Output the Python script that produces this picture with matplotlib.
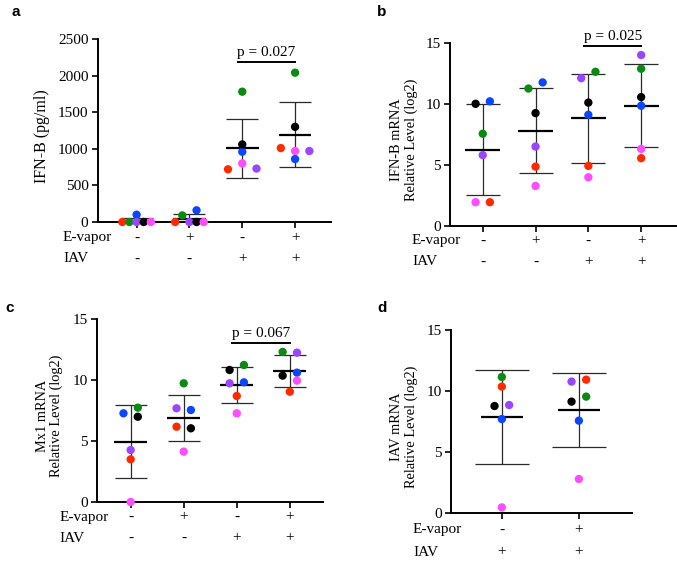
import numpy as np
import matplotlib.pyplot as plt
from matplotlib.transforms import blended_transform_factory

plt.rcParams['font.family'] = ['Liberation Serif', 'DejaVu Serif']

# dot colours, same order in every group: red, green, blue, purple, black, pink
colors = ['#ff2a00', '#0a8a12', '#0a46ff', '#9b45ff', '#000000', '#ff4cff']

# a: IFN-B protein (pg/ml)
a_vapor = ['-', '+', '-', '+']
a_iav = ['-', '-', '+', '+']
a_values = [
    [0, 0, 100, 0, 0, 0],
    [0, 90, 160, 0, 0, 0],
    [720, 1780, 960, 730, 1060, 800],
    [1010, 2040, 860, 970, 1300, 970],
]
a_slots = [
    [-2, -1, 0, 0, 1, 2],
    [-2, -1, 1, 0, 1, 2],
    [-2, 0, 0, 2, 0, 0],
    [-2, 0, 0, 2, 0, 0],
]

# b: IFN-B mRNA
b_vapor = ['-', '+', '-', '+']
b_iav = ['-', '-', '+', '+']
b_values = [
    [1.95, 7.55, 10.2, 5.8, 10.0, 1.95],
    [4.86, 11.25, 11.75, 6.5, 9.24, 3.28],
    [4.92, 12.62, 9.1, 12.1, 10.1, 3.99],
    [5.55, 12.87, 9.84, 13.99, 10.55, 6.31],
]
b_slots = [
    [1, 0, 1, 0, -1, -1],
    [0, -1, 1, 0, 0, 0],
    [0, 1, 0, -1, 0, 0],
    [0, 0, 0, 0, 0, 0],
]

# c: Mx1 mRNA
c_vapor = ['-', '+', '-', '+']
c_iav = ['-', '-', '+', '+']
c_values = [
    [3.5, 7.73, 7.27, 4.26, 6.99, 0.0],
    [6.17, 9.73, 7.54, 7.68, 6.04, 4.13],
    [8.69, 11.23, 9.81, 9.73, 10.82, 7.27],
    [9.04, 12.3, 10.6, 12.24, 10.36, 9.95],
]
c_slots = [
    [0, 1, -1, 0, 1, 0],
    [-1, 0, 1, -1, 1, 0],
    [0, 1, 1, -1, -1, 0],
    [0, -1, 1, 1, -1, 1],
]

# d: IAV mRNA
d_vapor = ['-', '+']
d_iav = ['+', '+']
d_values = [
    [10.36, 11.15, 7.7, 8.85, 8.77, 0.46],
    [10.93, 9.54, 7.57, 10.77, 9.13, 2.79],
]
d_slots = [
    [0, 0, 0, 1, -1, 0],
    [1, 1, 0, -1, -1, 0],
]


def draw_panel(ax, values, slots, vapor, iav, xlim, ylim, yticks, ylabel,
               slot_w, mean_hw, capsize, ylab_dx, row_dy, row_dx):
    ax_w = ax.get_position().width * 677
    for i, grp in enumerate(values):
        grp = np.array(grp, dtype=float)
        m = grp.mean()
        sd = grp.std(ddof=1)
        ax.errorbar(i, m, yerr=sd, fmt='none', ecolor='#2a2a2a', elinewidth=0.9,
                    capsize=capsize, capthick=0.9, zorder=2)
        ax.hlines(m, i - mean_hw, i + mean_hw, colors='black', lw=1.6, zorder=2)
        xs = i + np.array(slots[i]) * slot_w
        ax.scatter(xs, grp, s=36, c=colors, linewidths=0, zorder=3, clip_on=False)

    ax.set_xlim(*xlim)
    ax.set_ylim(*ylim)
    ax.set_yticks(yticks)
    ax.set_xticks(range(len(values)))
    ax.set_xticklabels([])
    for s in ['top', 'right']:
        ax.spines[s].set_visible(False)
    for s in ['left', 'bottom']:
        ax.spines[s].set_linewidth(1.4)
    ax.tick_params(axis='both', length=4.5, width=1.2, labelsize=11, pad=2)

    trans = blended_transform_factory(ax.transData, ax.transAxes)
    for i in range(len(values)):
        ax.annotate(vapor[i], xy=(i, 0), xycoords=trans, xytext=(0, -row_dy[0]),
                    textcoords='offset pixels', ha='center', va='center', fontsize=11)
        ax.annotate(iav[i], xy=(i, 0), xycoords=trans, xytext=(0, -row_dy[1]),
                    textcoords='offset pixels', ha='center', va='center', fontsize=11)
    ax.annotate('E-vapor', xy=(0, 0), xycoords='axes fraction',
                xytext=(-row_dx, -row_dy[0]), textcoords='offset pixels',
                ha='left', va='center', fontsize=11)
    ax.annotate('IAV', xy=(0, 0), xycoords='axes fraction',
                xytext=(-row_dx, -row_dy[1]), textcoords='offset pixels',
                ha='left', va='center', fontsize=11)

    ax.text(-ylab_dx / ax_w, 0.47, ylabel, transform=ax.transAxes, rotation=90,
            ha='center', va='center', fontsize=10.4 if '\n' in ylabel else 11.5,
            linespacing=1.05)


def p_bracket(ax, x0, x1, y, text):
    ax.plot([x0, x1], [y, y], color='black', lw=1.4, solid_capstyle='butt')
    ax.annotate(text, xy=((x0 + x1) / 2, y), xytext=(0, 3), textcoords='offset pixels',
                ha='center', va='bottom', fontsize=11)


fig = plt.figure(figsize=(6.77, 5.62), dpi=100)

ax_a = fig.add_axes([97.5 / 677, 1 - 222 / 562, 233.5 / 677, 183 / 562])
ax_b = fig.add_axes([450 / 677, 1 - 226 / 562, 226 / 677, 183.3 / 562])
ax_c = fig.add_axes([96.7 / 677, 1 - 502 / 562, 226 / 677, 183 / 562])
ax_d = fig.add_axes([451 / 677, 1 - 513 / 562, 181 / 677, 183 / 562])

draw_panel(ax_a, a_values, a_slots, a_vapor, a_iav, (-0.74, 3.68), (0, 2500),
           range(0, 2501, 500), 'IFN-B (pg/ml)', 0.135, 0.31, 11.5, 55.5, (16, 37), 34.5)
draw_panel(ax_b, b_values, b_slots, b_vapor, b_iav, (-0.62, 3.66), (0, 15),
           range(0, 16, 5), 'IFN-B mRNA\nRelative Level (log2)', 0.135, 0.33, 12, 46,
           (15, 36), 38)
draw_panel(ax_c, c_values, c_slots, c_vapor, c_iav, (-0.64, 3.62), (0, 15),
           range(0, 16, 5), 'Mx1 mRNA\nRelative Level (log2)', 0.135, 0.31, 11.5, 47.5,
           (15, 36), 37)
draw_panel(ax_d, d_values, d_slots, d_vapor, d_iav, (-0.66, 1.69), (0, 15),
           range(0, 16, 5), 'IAV mRNA\nRelative Level (log2)', 0.095, 0.27, 19.5, 47,
           (17, 39), 38)

p_bracket(ax_a, 1.9, 3.02, 2186, 'p = 0.027')
p_bracket(ax_b, 1.9, 3.02, 14.75, 'p = 0.025')
p_bracket(ax_c, 1.9, 3.02, 13.03, 'p = 0.067')

for lab, (x, y) in zip('abcd', [(12, 12), (377, 12), (5, 308), (377, 308)]):
    fig.text(x / 677, 1 - y / 562, lab, fontsize=11, fontweight='bold',
             family=['Liberation Sans', 'DejaVu Sans'], ha='left', va='center')

plt.savefig('out.png', dpi=100)
